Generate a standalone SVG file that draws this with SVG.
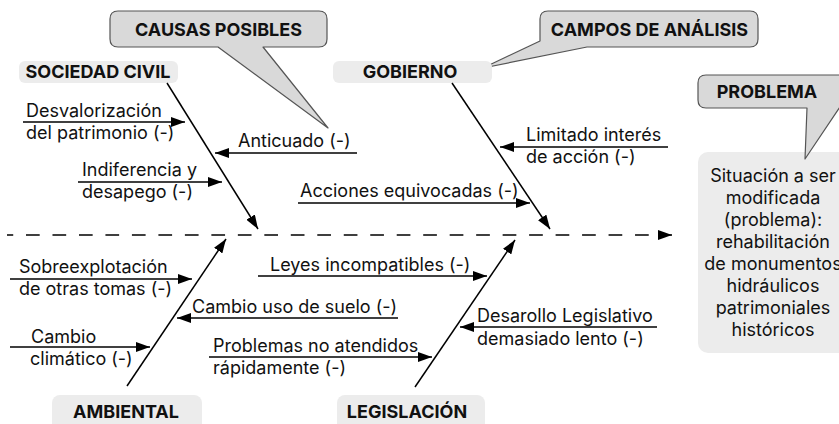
<svg xmlns="http://www.w3.org/2000/svg" width="839" height="424" viewBox="0 0 839 424">
<style>
.t{font-family:Inter,"Liberation Sans",sans-serif;font-size:18px;fill:#111}
.b{font-family:Inter,"Liberation Sans",sans-serif;font-size:18px;font-weight:bold;fill:#111;text-anchor:middle}
.c{text-anchor:middle}
.lbl{fill:#ececec}
.call{fill:#d9d9d9;stroke:#555;stroke-width:1.2;stroke-linejoin:round}
.ln{stroke:#000;stroke-width:1.5;fill:none;marker-end:url(#ah)}
</style>
<defs>
<marker id="ah" markerUnits="userSpaceOnUse" markerWidth="14" markerHeight="10" refX="14" refY="5" orient="auto" viewBox="0 0 14 10">
<path d="M0,0 L14,5 L0,10 Z" fill="#000"/>
</marker>
</defs>
<rect width="839" height="424" fill="#fff"/>

<g id="problem-box">
<rect x="698" y="152" width="170" height="201" rx="10" class="lbl"/>
<text class="t c" x="773" y="182">Situación a ser</text>
<text class="t c" x="773" y="204">modificada</text>
<text class="t c" x="773" y="226">(problema):</text>
<text class="t c" x="773" y="248">rehabilitación</text>
<text class="t c" x="773" y="270">de monumentos</text>
<text class="t c" x="773" y="292">hidráulicos</text>
<text class="t c" x="773" y="314">patrimoniales</text>
<text class="t c" x="773" y="336">históricos</text>
</g>

<g id="callout-causas">
<path class="call" d="M118,11 H319 Q327,11 327,19 V39 Q327,47 319,47 H263 L328,128 L218,47 H118 Q110,47 110,39 V19 Q110,11 118,11 Z"/>
<text class="b" x="218.5" y="36">CAUSAS POSIBLES</text>
</g>
<g id="callout-campos">
<path class="call" d="M548,11 H750 Q758,11 758,19 V39 Q758,47 750,47 H587 L483,68 L540,41 V19 Q540,11 548,11 Z"/>
<text class="b" x="649.5" y="36">CAMPOS DE ANÁLISIS</text>
</g>
<g id="callout-problema">
<path class="call" d="M706,75 H850 V92 L805,159 L807,108 H706 Q698,108 698,100 V83 Q698,75 706,75 Z"/>
<text class="b" x="767" y="98">PROBLEMA</text>
</g>

<g id="sociedad-civil">
<rect x="19" y="61" width="159" height="22" rx="6" class="lbl"/>
<text class="b" x="98" y="78">SOCIEDAD CIVIL</text>
</g>
<g id="gobierno">
<rect x="333" y="61" width="159" height="22" rx="6" class="lbl"/>
<text class="b" x="410" y="78">GOBIERNO</text>
</g>
<g id="ambiental">
<rect x="52" y="395" width="150" height="40" rx="8" class="lbl"/>
<text class="b" x="126" y="418">AMBIENTAL</text>
</g>
<g id="legislacion">
<rect x="337" y="395" width="148" height="40" rx="8" class="lbl"/>
<text class="b" x="407" y="418">LEGISLACIÓN</text>
</g>

<g id="causes">
<text class="t" x="26" y="117">Desvalorización</text>
<text class="t" x="26" y="139">del patrimonio (-)</text>
<text class="t" x="238" y="147">Anticuado (-)</text>
<text class="t" x="82" y="176">Indiferencia y</text>
<text class="t" x="82" y="198">desapego (-)</text>
<text class="t" x="526" y="141">Limitado interés</text>
<text class="t" x="526" y="163">de acción (-)</text>
<text class="t" x="300" y="197">Acciones equivocadas (-)</text>
<text class="t" x="19" y="273">Sobreexplotación</text>
<text class="t" x="19" y="295">de otras tomas (-)</text>
<text class="t" x="192" y="313">Cambio uso de suelo (-)</text>
<text class="t" x="31" y="343">Cambio</text>
<text class="t" x="30" y="365">climático (-)</text>
<text class="t" x="270" y="271">Leyes incompatibles (-)</text>
<text class="t" x="213" y="352">Problemas no atendidos</text>
<text class="t" x="213" y="374">rápidamente (-)</text>
<text class="t" x="477" y="322">Desarollo Legislativo</text>
<text class="t" x="477" y="345">demasiado lento (-)</text>
</g>

<g id="connectors">
<line class="ln" x1="7" y1="235" x2="672" y2="235" stroke-dasharray="13.7 12.78" stroke-dashoffset="7.48"/>
<line class="ln" x1="167" y1="83" x2="258" y2="229"/>
<line class="ln" x1="452" y1="83" x2="550" y2="229"/>
<line class="ln" x1="127" y1="386" x2="226" y2="239"/>
<line class="ln" x1="415" y1="387" x2="515" y2="240"/>
<line class="ln" x1="23" y1="122" x2="185" y2="122"/>
<line class="ln" x1="357" y1="153" x2="215" y2="153"/>
<line class="ln" x1="78" y1="182" x2="222" y2="182"/>
<line class="ln" x1="668" y1="147" x2="500" y2="147"/>
<line class="ln" x1="298" y1="203" x2="530" y2="203"/>
<line class="ln" x1="10" y1="279" x2="192" y2="279"/>
<line class="ln" x1="398" y1="318" x2="177" y2="318"/>
<line class="ln" x1="10" y1="347" x2="150" y2="347"/>
<line class="ln" x1="258" y1="276" x2="487" y2="276"/>
<line class="ln" x1="209" y1="357" x2="432" y2="357"/>
<line class="ln" x1="657" y1="327" x2="460" y2="327"/>
</g>
</svg>
